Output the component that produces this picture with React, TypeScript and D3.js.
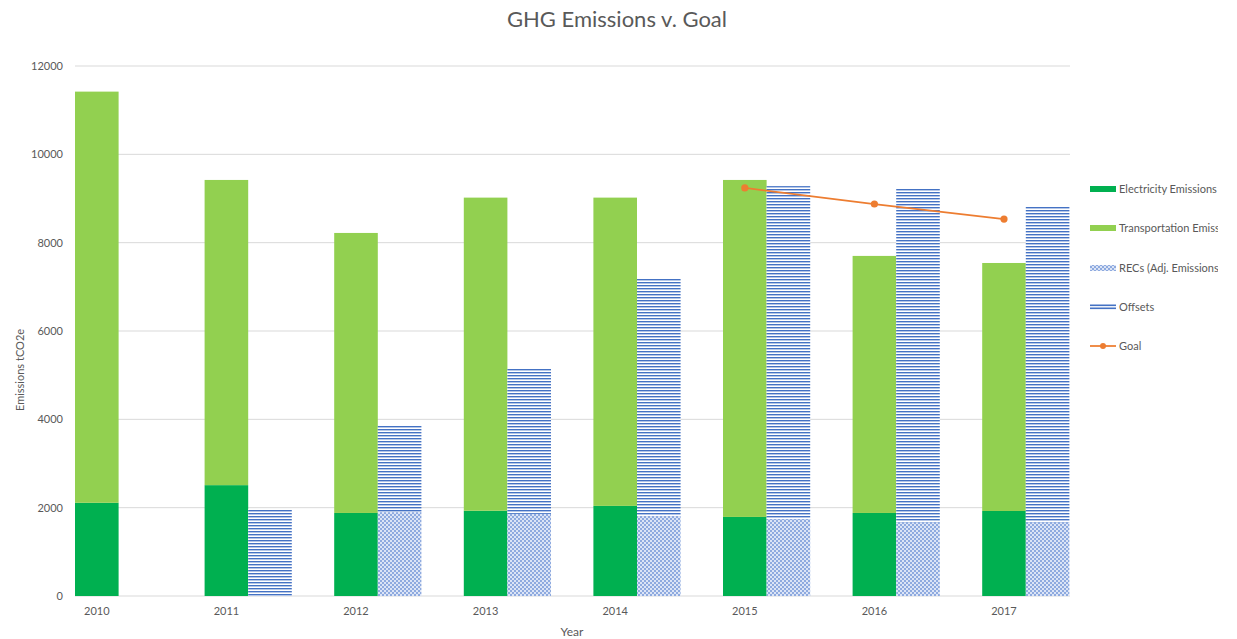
import React from "react";
import * as d3 from "d3";

const years = ["2010", "2011", "2012", "2013", "2014", "2015", "2016", "2017"];
const electricity = [2110, 2510, 1880, 1930, 2040, 1790, 1880, 1925];
const transportation = [9310, 6910, 6340, 7090, 6980, 7630, 5820, 5615];
const recs = [0, 0, 1900, 1860, 1810, 1740, 1670, 1670];
const offsets = [0, 1970, 1950, 3280, 5370, 7540, 7545, 7160];
const goalYears = ["2015", "2016", "2017"];
const goalValues = [9240, 8875, 8535];
const yTicks = [0, 2000, 4000, 6000, 8000, 10000, 12000];
const legendItems = ["Electricity Emissions", "Transportation Emissions", "RECs (Adj. Emissions)", "Offsets", "Goal"];

const W = 1237, H = 639;
const left = 75, plotRight = 1070, step = 129.6;
const barW = 43.6;
const FONT = "Lato, 'Open Sans', sans-serif";
const TXT = "#595959";

export default function App() {
  const x = d3.scaleBand<string>().domain(years).range([left, left + step * years.length]).padding(0);
  const y = d3.scaleLinear().domain([0, 12000]).range([596, 66]);

  const s1 = d3.stack<any>().keys(["e", "t"])(years.map((yr, i) => ({ yr, e: electricity[i], t: transportation[i] })));
  const s2 = d3.stack<any>().keys(["r", "o"])(years.map((yr, i) => ({ yr, r: recs[i], o: offsets[i] })));
  const fill1 = ["#00B050", "#92D050"];
  const fill2 = ["url(#recs)", "url(#offs)"];

  const line = d3.line<number>()
    .x((_, i) => (x(goalYears[i]) as number) + barW / 2)
    .y((v) => y(v));

  const legendY = [189, 228, 268, 307, 346];

  return (
    <svg width={W} height={H} style={{ position: "absolute", left: 0, top: 0, background: "#fff" }} fontFamily={FONT}>
      <defs>
        <pattern id="offs" width="4" height="3" patternUnits="userSpaceOnUse">
          <rect width="4" height="3" fill="#ffffff" />
          <rect width="4" height="1.4" fill="#4472C4" />
        </pattern>
        <pattern id="recs" width="4" height="4" patternUnits="userSpaceOnUse">
          <rect width="4" height="4" fill="#dbe4f6" />
          <rect x="0" y="0" width="2" height="2" fill="#8eaadf" />
          <rect x="2" y="2" width="2" height="2" fill="#8eaadf" />
        </pattern>
        <clipPath id="legclip">
          <rect x="1080" y="150" width="138" height="220" />
        </clipPath>
      </defs>

      <text x={617} y={27} textAnchor="middle" fontSize={22} fill={TXT}>GHG Emissions v. Goal</text>

      {yTicks.map((t) => (
        <g key={t}>
          <line x1={left} x2={plotRight} y1={y(t)} y2={y(t)} stroke="#d9d9d9" strokeWidth={1} />
          <text x={63} y={y(t) + 4} textAnchor="end" fontSize={11} fill={TXT}>{t}</text>
        </g>
      ))}

      {s1.map((layer, li) => layer.map((d, i) => (
        <rect key={`a${li}-${i}`} x={x(years[i]) as number} width={barW}
          y={y(d[1])} height={Math.max(0, y(d[0]) - y(d[1]))} fill={fill1[li]} />
      )))}
      {s2.map((layer, li) => layer.map((d, i) => (
        <rect key={`b${li}-${i}`} x={(x(years[i]) as number) + barW} width={barW}
          y={y(d[1])} height={Math.max(0, y(d[0]) - y(d[1]))} fill={fill2[li]} />
      )))}

      <path d={line(goalValues) as string} fill="none" stroke="#ED7D31" strokeWidth={1.75} />
      {goalValues.map((v, i) => (
        <circle key={i} cx={(x(goalYears[i]) as number) + barW / 2} cy={y(v)} r={3.6} fill="#ED7D31" />
      ))}

      {years.map((yr) => (
        <text key={yr} x={(x(yr) as number) + barW / 2} y={615} textAnchor="middle" fontSize={11} fill={TXT}>{yr}</text>
      ))}

      <text x={572} y={636} textAnchor="middle" fontSize={12} fill={TXT}>Year</text>
      <text transform="translate(24,370) rotate(-90)" textAnchor="middle" fontSize={11} fill={TXT}>Emissions tCO2e</text>

      <g clipPath="url(#legclip)">
        {legendItems.map((name, i) => (
          <g key={name}>
            {i < 3 && <rect x={1090} y={legendY[i] - 3} width={26} height={6} fill={i === 0 ? "#00B050" : i === 1 ? "#92D050" : "url(#recs)"} />}
            {i === 3 && (
              <g>
                <rect x={1090} y={legendY[i] - 2.5} width={26} height={1.6} fill="#4472C4" />
                <rect x={1090} y={legendY[i] + 0.5} width={26} height={1.6} fill="#4472C4" />
              </g>
            )}
            {i === 4 && (
              <g>
                <line x1={1090} x2={1116} y1={legendY[i]} y2={legendY[i]} stroke="#ED7D31" strokeWidth={1.75} />
                <circle cx={1103} cy={legendY[i]} r={3} fill="#ED7D31" />
              </g>
            )}
            <text x={1119} y={legendY[i] + 4} fontSize={11} fill={TXT}>{name}</text>
          </g>
        ))}
      </g>
    </svg>
  );
}
